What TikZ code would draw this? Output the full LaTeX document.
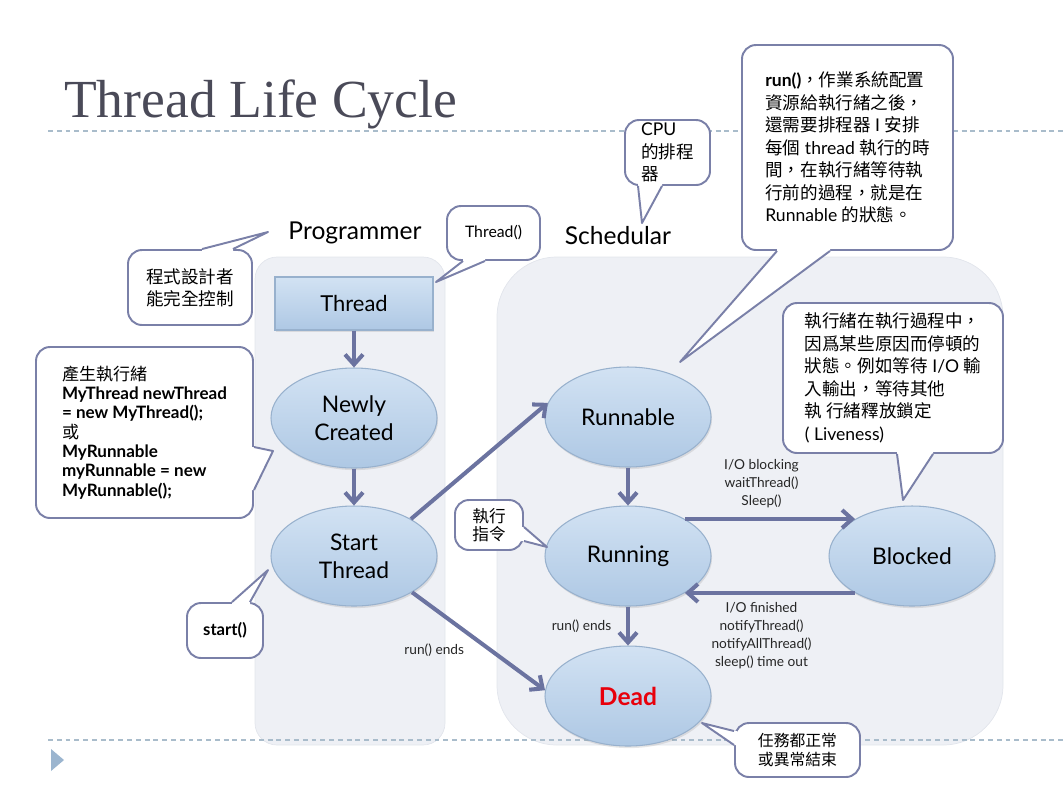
\documentclass[tikz,border=0pt]{standalone}
\usepackage{fontspec}
\setmainfont{Lato}
\newfontfamily\cjk{Noto Sans CJK TC}
\newfontfamily\titlefont{Liberation Serif}
\usepackage{tikz}
\usetikzlibrary{arrows.meta,calc,shapes.geometric,shadows}
\usepackage{xcolor}
\definecolor{flowline}{HTML}{6B73A0}
\definecolor{bubline}{HTML}{7A80A8}
\definecolor{elltop}{HTML}{D2E2F3}
\definecolor{ellbot}{HTML}{AEC8E4}
\definecolor{ellrim}{HTML}{98B1CD}
\definecolor{panelgray}{HTML}{EEF0F5}
\definecolor{panelrim}{HTML}{E2E5EC}
\definecolor{rulecol}{HTML}{A9BCCB}
\definecolor{titlegray}{HTML}{4A4A58}
\definecolor{marker}{HTML}{9BB5CF}
\definecolor{deadred}{HTML}{E8000B}
\newlength\unitpx
\setlength\unitpx{0.02cm}
\newcommand\bubtail[5]{%
  \fill[white] ($(#1)+(#2)$) -- (#4) -- ($(#1)+(#3)$) -- ($(#1)+(#3)+(#5)$) -- ($(#1)+(#2)+(#5)$) -- cycle;
  \draw[draw=bubline,line width=1.1pt,line join=round] ($(#1)+(#2)$) -- (#4) -- ($(#1)+(#3)$);
}

\begin{document}
\begin{tikzpicture}[x=0.02cm,y=-0.02cm,
  state/.style={ellipse,minimum width=166\unitpx,minimum height=100\unitpx,inner sep=0pt,
    top color=elltop,bottom color=ellbot,draw=ellrim,line width=0.6pt,align=center,
    font=\fontsize{13}{16}\selectfont,drop shadow={opacity=0.2,shadow xshift=0.6pt,shadow yshift=-1.2pt}},
  box/.style={rectangle,minimum width=158\unitpx,minimum height=53\unitpx,inner sep=0pt,
    top color=elltop,bottom color=ellbot,draw=ellrim,line width=0.6pt,
    font=\fontsize{12.5}{15}\selectfont,drop shadow={opacity=0.2,shadow xshift=0.6pt,shadow yshift=-1.2pt}},
  bubble/.style={rectangle,draw=bubline,line width=1.1pt,fill=white,rounded corners=14\unitpx,
    inner sep=0pt,align=left,font=\fontsize{10}{12.8}\selectfont},
  flow/.style={draw=flowline,line width=2.3pt,-{Straight Barb[length=2mm,width=3.6mm]}},
  lab/.style={font=\fontsize{7.8}{10.2}\selectfont,align=center,text=black!85},
  rule/.style={draw=rulecol,line width=0.6pt,dash pattern=on 2.8pt off 2.2pt},
  head/.style={font=\fontsize{14}{16}\selectfont}]
\useasboundingbox (0,0) rectangle (1064,799);

\fill[panelgray,draw=panelrim,rounded corners=22\unitpx] (255,257) rectangle (445,745);
\fill[panelgray,draw=panelrim,rounded corners=60\unitpx] (497,257) rectangle (1003,745);
\draw[rule] (48,131) -- (1064,131);
\draw[rule] (48,740) -- (1064,740);
\fill[marker] (51,749) -- (64,760) -- (51,771) -- cycle;

\node[font=\titlefont\fontsize{30.5}{36}\selectfont,text=titlegray,anchor=base west] (title) at (58,117) {Thread Life Cycle};
\node[head] (prog) at (355,233) {Programmer};
\node[head] (sched) at (618,236) {Schedular};

\node[box] (thread) at (354,303.5) {Thread};
\node[state] (newly) at (354,418) {Newly\\Created};
\node[state] (startth) at (354,556) {Start\\Thread};
\node[state] (runnable) at (628,417) {Runnable};
\node[state] (running) at (628,556) {Running};
\node[state] (blocked) at (912,556) {Blocked};
\node[state,font=\fontsize{14}{16}\selectfont\bfseries,text=deadred] (dead) at (628,696) {Dead};

\draw[flow] (thread) -- (newly);
\draw[flow] (newly) -- (startth);
\draw[flow] (startth.33) -- (runnable.170);
\draw[flow] (startth.-32) -- (dead.176) node[pos=0.45,below left=0pt,lab] {run() ends};
\draw[flow] (runnable) -- (running);
\draw[flow] (running.33) -- (blocked.147) node[pos=0.45,above=2pt,lab] {I/O blocking\\waitThread()\\Sleep()};
\draw[flow] (blocked.-147) -- (running.-33) node[pos=0.55,below=1pt,lab] {I/O finished\\notifyThread()\\notifyAllThread()\\sleep() time out};
\draw[flow] (running) -- (dead) node[midway,left=5pt,lab] {run() ends};

\coordinate (tprog) at (268,232);
\coordinate (tnew) at (273,451);
\coordinate (tthr) at (436,282);
\coordinate (tcpu) at (642,223);
\coordinate (trun) at (680,362);
\coordinate (tblk) at (903,500);
\coordinate (tstart) at (268,570);
\coordinate (texe) at (547,547);
\coordinate (tend) at (702,723);

\node[bubble,minimum width=124\unitpx,minimum height=75\unitpx,font=\cjk\fontsize{10}{12.5}\selectfont] (cprog) at (190,287.5)
  {程式設計者\\能完全控制};
\bubtail{cprog.north}{12,0}{43,0}{tprog}{0,3}

\node[bubble,minimum width=217\unitpx,minimum height=171\unitpx,font=\fontsize{9.7}{11}\selectfont] (cnew) at (144.5,432.5)
  {{\cjk 產生執行緒}\\\textbf{MyThread newThread}\\\textbf{= new MyThread();}\\{\cjk 或}\\\textbf{MyRunnable}\\\textbf{myRunnable = new}\\\textbf{MyRunnable();}};
\bubtail{cnew.east}{0,14.5}{0,57.5}{tnew}{-3,0}

\node[bubble,minimum width=93\unitpx,minimum height=54\unitpx,font=\fontsize{9}{11}\selectfont] (cthr) at (493.5,233) {Thread()};
\bubtail{cthr.south}{-30.5,0}{-8.5,0}{tthr}{0,-3}

\node[bubble,minimum width=85\unitpx,minimum height=65\unitpx] (ccpu) at (667.5,152.5)
  {CPU\\{\cjk 的排程}\\{\cjk 器}};
\bubtail{ccpu.south}{-29.5,0}{-5.5,0}{tcpu}{0,-3}

\node[bubble,minimum width=211\unitpx,minimum height=205\unitpx] (crun) at (847.5,147.5)
  {\textbf{run()}{\cjk ，作業系統配置}\\{\cjk 資源給執行緒之後，}\\{\cjk 還需要排程器} I {\cjk 安排}\\{\cjk 每個} thread {\cjk 執行的時}\\{\cjk 間，在執行緒等待執}\\{\cjk 行前的過程，就是在}\\Runnable {\cjk 的狀態。}};
\bubtail{crun.south}{-70.5,0}{-17.5,0}{trun}{0,-3}

\node[bubble,minimum width=220\unitpx,minimum height=150\unitpx] (cblk) at (893,378)
  {{\cjk 執行緒在執行過程中，}\\{\cjk 因爲某些原因而停頓的}\\{\cjk 狀態。例如等待} I/O {\cjk 輸}\\{\cjk 入輸出，等待其他}\\{\cjk 執 行緒釋放鎖定}\\( Liveness)};
\bubtail{cblk.south}{4,0}{40,0}{tblk}{0,-3}

\node[bubble,minimum width=76\unitpx,minimum height=55\unitpx,font=\fontsize{9.5}{11}\selectfont\bfseries] (cstart) at (225,630.5) {start()};
\bubtail{cstart.north}{7,0}{25,0}{tstart}{0,3}

\node[bubble,minimum width=68\unitpx,minimum height=50\unitpx,font=\cjk\fontsize{9.5}{10.5}\selectfont] (cexe) at (489,525)
  {執行\\指令};
\bubtail{cexe.east}{0,2}{0,16}{texe}{-3,0}

\node[bubble,minimum width=125\unitpx,minimum height=54\unitpx,font=\cjk\fontsize{9}{10.5}\selectfont] (cend) at (797.5,750)
  {任務都正常\\或異常結束};
\bubtail{cend.west}{0,-19}{0,-5}{tend}{3,0}
\end{tikzpicture}
\end{document}
